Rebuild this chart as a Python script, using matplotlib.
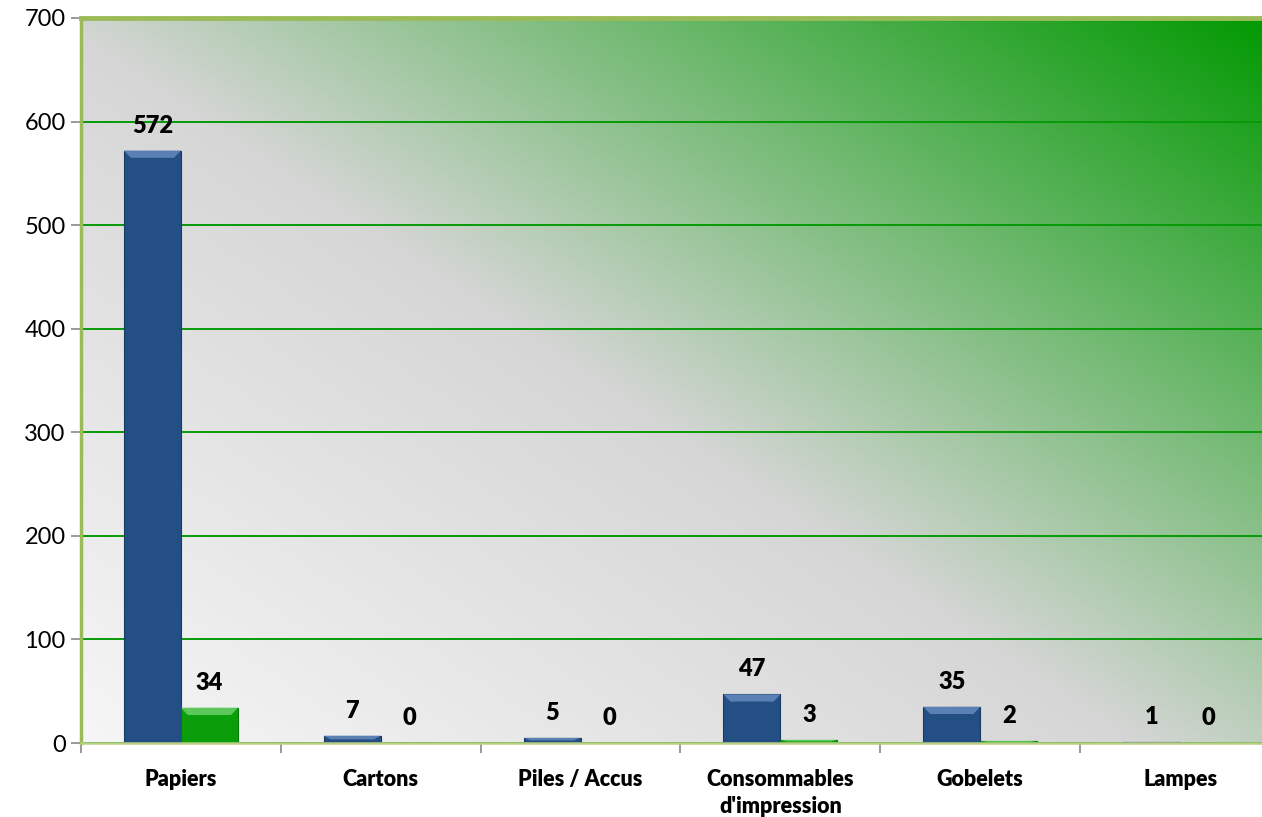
import numpy as np
import matplotlib.pyplot as plt
from matplotlib.colors import LinearSegmentedColormap
from matplotlib.patches import Polygon

categories = ["Papiers", "Cartons", "Piles / Accus", "Consommables\nd'impression", "Gobelets", "Lampes"]
serie_bleue = [572, 7, 5, 47, 35, 1]
serie_verte = [34, 0, 0, 3, 2, 0]
y_ticks = [0, 100, 200, 300, 400, 500, 600, 700]

plt.rcParams['font.family'] = ['Lato', 'DejaVu Sans']

fig = plt.figure(figsize=(12.62, 8.17), dpi=100)
ax = fig.add_axes([81 / 1262, 74 / 817, (1280 - 81) / 1262, (743 - 18) / 817])

n = len(categories)
x = np.arange(n)
ax.set_xlim(-0.5, n - 0.5)
ax.set_ylim(0, 700)

# Fond en dégradé : blanc en bas à gauche -> gris -> vert en haut à droite
grad = LinearSegmentedColormap.from_list(
    "fond", [(0.0, "#f6f6f6"), (0.46, "#d6d6d6"), (1.0, "#009900")])
u, v = np.meshgrid(np.linspace(0, 1, 400), np.linspace(0, 1, 300))
t = (u * 1.05 + v * 0.95) / 2
ax.imshow(grad(t), extent=[-0.5, n - 0.5, 0, 700], origin="lower",
          aspect="auto", zorder=0, interpolation="bilinear")

ax.set_yticks(y_ticks)
ax.yaxis.grid(True, color="#079a07", linewidth=1.4, zorder=1)
ax.set_axisbelow(True)

w = 0.285
bars_b = ax.bar(x - w / 2, serie_bleue, w, color="#244f84", edgecolor="#1a3a62",
                linewidth=0.8, zorder=3)
bars_v = ax.bar(x + w / 2, serie_verte, w, color="#0a9e0a", edgecolor="#067a06",
                linewidth=0.8, zorder=3)

# léger biseau en haut des barres
def bevel(bars, light):
    for b in bars:
        h = b.get_height()
        if h <= 0:
            continue
        x0, x1 = b.get_x(), b.get_x() + b.get_width()
        d = min(7.0, h / 2)
        dx = b.get_width() * 0.12
        poly = Polygon([(x0, h), (x1, h), (x1 - dx, h - d), (x0 + dx, h - d)],
                       closed=True, facecolor=light, edgecolor="none", zorder=4)
        ax.add_patch(poly)

bevel(bars_b, "#5a80b4")
bevel(bars_v, "#5cc85c")

for bars, vals in ((bars_b, serie_bleue), (bars_v, serie_verte)):
    for b, val in zip(bars, vals):
        ax.annotate(str(val), (b.get_x() + b.get_width() / 2, val),
                    xytext=(0, 18), textcoords="offset points",
                    ha="center", va="center", fontsize=17, fontweight="heavy",
                    color="black", zorder=5)

# axes
ax.set_xticks(np.arange(-0.5, n + 0.5, 1))
ax.set_xticklabels([])
ax.set_xticks(x, minor=True)
ax.set_xticklabels(categories, minor=True, fontsize=15.5, fontweight="heavy",
                   linespacing=1.35, va="top")
ax.tick_params(axis="x", which="major", length=7, color="#888888", width=1.2)
ax.tick_params(axis="x", which="minor", length=0, pad=19)
ax.tick_params(axis="y", length=7, color="#888888", width=1.2, labelsize=17, pad=4)

ax.spines["left"].set_color("#9bbb59")
ax.spines["left"].set_linewidth(2.5)
ax.spines["top"].set_color("#9bbb59")
ax.spines["top"].set_linewidth(3.5)
ax.spines["bottom"].set_color("#b9cf86")
ax.spines["bottom"].set_linewidth(1.8)
ax.spines["right"].set_visible(False)
for s in ax.spines.values():
    s.set_zorder(6)

fig.savefig("out.png", dpi=100)
